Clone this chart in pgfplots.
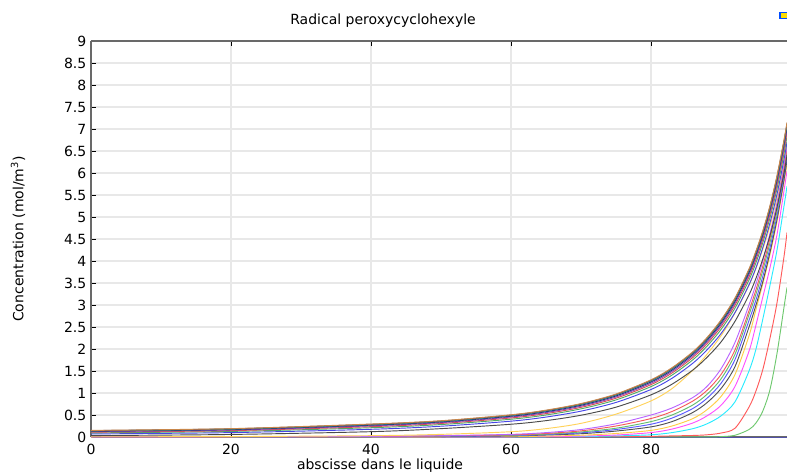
\documentclass[border=0pt]{standalone}
\usepackage{pgfplots}
\pgfplotsset{compat=1.18}
\usepackage{pgfplotstable}
\usepackage{fontspec}
\setmainfont{DejaVu Sans}

\definecolor{cz}{RGB}{70,70,200}
\definecolor{cg2}{RGB}{110,200,110}
\definecolor{cr2}{RGB}{255,90,90}
\definecolor{ccy}{RGB}{40,235,255}
\definecolor{cmg}{RGB}{255,80,255}
\definecolor{cy2}{RGB}{255,205,70}
\definecolor{cbk}{RGB}{80,80,80}
\definecolor{cbl}{RGB}{90,90,255}
\definecolor{cgr}{RGB}{100,190,110}
\definecolor{crd}{RGB}{245,90,90}
\definecolor{cpu}{RGB}{185,100,255}
\definecolor{cy1}{RGB}{255,210,90}
\definecolor{cb0}{RGB}{75,75,75}
\definecolor{cb1}{RGB}{70,70,230}
\definecolor{cb2}{RGB}{80,170,100}
\definecolor{cb3}{RGB}{220,80,80}
\definecolor{cb4}{RGB}{140,70,190}
\definecolor{cb5}{RGB}{40,40,110}
\definecolor{cb6}{RGB}{20,150,150}
\definecolor{cb7}{RGB}{110,80,90}
\definecolor{cbT}{RGB}{200,135,75}
\definecolor{axgray}{RGB}{105,105,105}
\definecolor{gridgray}{RGB}{232,232,232}

\pgfplotstableread{
x z g2 r2 cy mg y2 bk bl gr rd pu y1 b0 b1 b2 b3 b4 b5 b6 b7 bT
0 0 0 0 0 0 0 0 0 0.001 0.002 0.003 0.005 0.032 0.07 0.094 0.11 0.122 0.132 0.140 0.146 0.15
20 0 0 0 0 0 0.001 0.002 0.003 0.004 0.005 0.006 0.01 0.058 0.10 0.127 0.145 0.159 0.170 0.179 0.186 0.19
40 0 0 0 0.001 0.002 0.003 0.005 0.008 0.01 0.012 0.015 0.03 0.121 0.175 0.211 0.235 0.253 0.269 0.281 0.289 0.295
50 0 0 0 0.001 0.003 0.005 0.01 0.015 0.02 0.025 0.03 0.06 0.19 0.245 0.283 0.308 0.326 0.343 0.355 0.364 0.37
60 0 0 0.001 0.002 0.005 0.01 0.025 0.03 0.04 0.05 0.06 0.12 0.29 0.36 0.404 0.433 0.454 0.473 0.488 0.498 0.505
65 0 0 0.001 0.005 0.01 0.02 0.045 0.055 0.065 0.08 0.10 0.19 0.372 0.453 0.50 0.532 0.555 0.575 0.591 0.602 0.61
70 0 0 0.002 0.01 0.02 0.04 0.075 0.095 0.115 0.14 0.17 0.31 0.495 0.588 0.64 0.674 0.70 0.722 0.739 0.751 0.76
75 0 0 0.007 0.025 0.045 0.08 0.135 0.17 0.20 0.25 0.30 0.52 0.678 0.786 0.843 0.882 0.91 0.935 0.954 0.967 0.977
80 0 0 0.015 0.05 0.10 0.15 0.23 0.29 0.35 0.42 0.50 0.82 0.958 1.08 1.146 1.19 1.223 1.252 1.274 1.289 1.30
83 0 0.001 0.025 0.10 0.18 0.25 0.35 0.43 0.50 0.58 0.66 1.10 1.20 1.335 1.407 1.455 1.491 1.522 1.546 1.563 1.575
86 0 0.002 0.035 0.19 0.32 0.42 0.56 0.65 0.73 0.82 0.90 1.52 1.525 1.68 1.758 1.81 1.849 1.883 1.909 1.927 1.94
88 0 0.003 0.05 0.30 0.48 0.62 0.78 0.88 0.97 1.06 1.15 1.88 1.81 1.98 2.064 2.12 2.162 2.198 2.226 2.246 2.26
90 0 0.008 0.09 0.48 0.72 0.92 1.10 1.22 1.32 1.42 1.55 2.30 2.16 2.35 2.443 2.505 2.552 2.592 2.623 2.645 2.66
92 0 0.04 0.20 0.80 1.15 1.42 1.60 1.76 1.88 1.98 2.15 2.82 2.63 2.83 2.929 2.995 3.045 3.087 3.12 3.144 3.16
94 0 0.17 0.68 1.50 1.95 2.30 2.50 2.65 2.78 2.87 3.00 3.45 3.23 3.46 3.568 3.64 3.694 3.741 3.777 3.802 3.82
95 0 0.32 1.05 2.00 2.55 2.90 3.00 3.12 3.25 3.35 3.48 3.83 3.61 3.85 3.964 4.04 4.097 4.146 4.184 4.211 4.23
96 0 0.60 1.55 2.70 3.20 3.50 3.55 3.67 3.80 3.90 4.02 4.28 4.06 4.32 4.434 4.51 4.567 4.616 4.654 4.681 4.70
97 0 1.08 2.25 3.45 3.85 4.15 4.20 4.30 4.42 4.52 4.63 4.80 4.58 4.87 4.987 5.065 5.124 5.174 5.213 5.241 5.26
98 0 1.90 3.05 4.25 4.60 4.90 4.95 5.03 5.13 5.23 5.33 5.45 5.22 5.52 5.646 5.73 5.793 5.848 5.89 5.919 5.94
99 0 2.95 4.10 5.25 5.60 5.80 5.85 5.95 6.05 6.12 6.20 6.30 6.00 6.31 6.442 6.53 6.596 6.653 6.697 6.728 6.75
99.43 0 3.40 4.65 5.70 6.05 6.20 6.30 6.40 6.50 6.55 6.62 6.70 6.41 6.70 6.835 6.925 6.993 7.051 7.096 7.128 7.15
}\data

\begin{document}
\begin{tikzpicture}
\path[use as bounding box] (0,0) rectangle (590.25pt,356.25pt);
\begin{axis}[
  at={(68.25pt,28.5pt)}, anchor=south west,
  scale only axis, width=522pt, height=297pt,
  xmin=0, xmax=99.43, ymin=0, ymax=9,
  xtick={0,20,40,60,80},
  ytick={0,0.5,1,1.5,2,2.5,3,3.5,4,4.5,5,5.5,6,6.5,7,7.5,8,8.5,9},
  axis x line*=box, axis y line*=left,
  xtick pos=both, ytick pos=left,
  axis line style={draw=axgray, line width=1.2pt},
  tick align=inside, major tick length=3.5pt,
  tick style={black, line width=0.6pt},
  grid=major, major grid style={draw=gridgray, line width=0.8pt},
  ticklabel style={font=\fontsize{10.5pt}{12pt}\selectfont},
  /pgf/number format/assume math mode=true,
  xticklabel style={yshift=-1.5pt},
  every axis plot/.append style={line width=0.7pt, smooth, no markers},
]
\addplot[cz] table[x=x,y=z]{\data};
\addplot[cg2] table[x=x,y=g2]{\data};
\addplot[cr2] table[x=x,y=r2]{\data};
\addplot[ccy] table[x=x,y=cy]{\data};
\addplot[cmg] table[x=x,y=mg]{\data};
\addplot[cy2] table[x=x,y=y2]{\data};
\addplot[cbk] table[x=x,y=bk]{\data};
\addplot[cbl] table[x=x,y=bl]{\data};
\addplot[cgr] table[x=x,y=gr]{\data};
\addplot[crd] table[x=x,y=rd]{\data};
\addplot[cpu] table[x=x,y=pu]{\data};
\addplot[cy1] table[x=x,y=y1]{\data};
\addplot[cb0] table[x=x,y=b0]{\data};
\addplot[cb1] table[x=x,y=b1]{\data};
\addplot[cb2] table[x=x,y=b2]{\data};
\addplot[cb3] table[x=x,y=b3]{\data};
\addplot[cb4] table[x=x,y=b4]{\data};
\addplot[cb5] table[x=x,y=b5]{\data};
\addplot[cb6] table[x=x,y=b6]{\data};
\addplot[cb7] table[x=x,y=b7]{\data};
\addplot[cbT] table[x=x,y=bT]{\data};
\end{axis}
\node[font=\fontsize{10.5pt}{12pt}\selectfont] at (287.25pt,340.5pt) {Radical peroxycyclohexyle};
\node[font=\fontsize{10.5pt}{12pt}\selectfont] at (285pt,7.1pt) {abscisse dans le liquide};
\node[font=\fontsize{10.5pt}{12pt}\selectfont, rotate=90] at (13.5pt,177pt) {Concentration (mol/m\textsuperscript{3})};
\fill[blue!70!cyan] (584.5pt,342pt) rectangle (590.25pt,347.5pt);
\fill[yellow!80!orange] (585.5pt,343pt) rectangle (590.25pt,346.5pt);
\end{tikzpicture}
\end{document}
